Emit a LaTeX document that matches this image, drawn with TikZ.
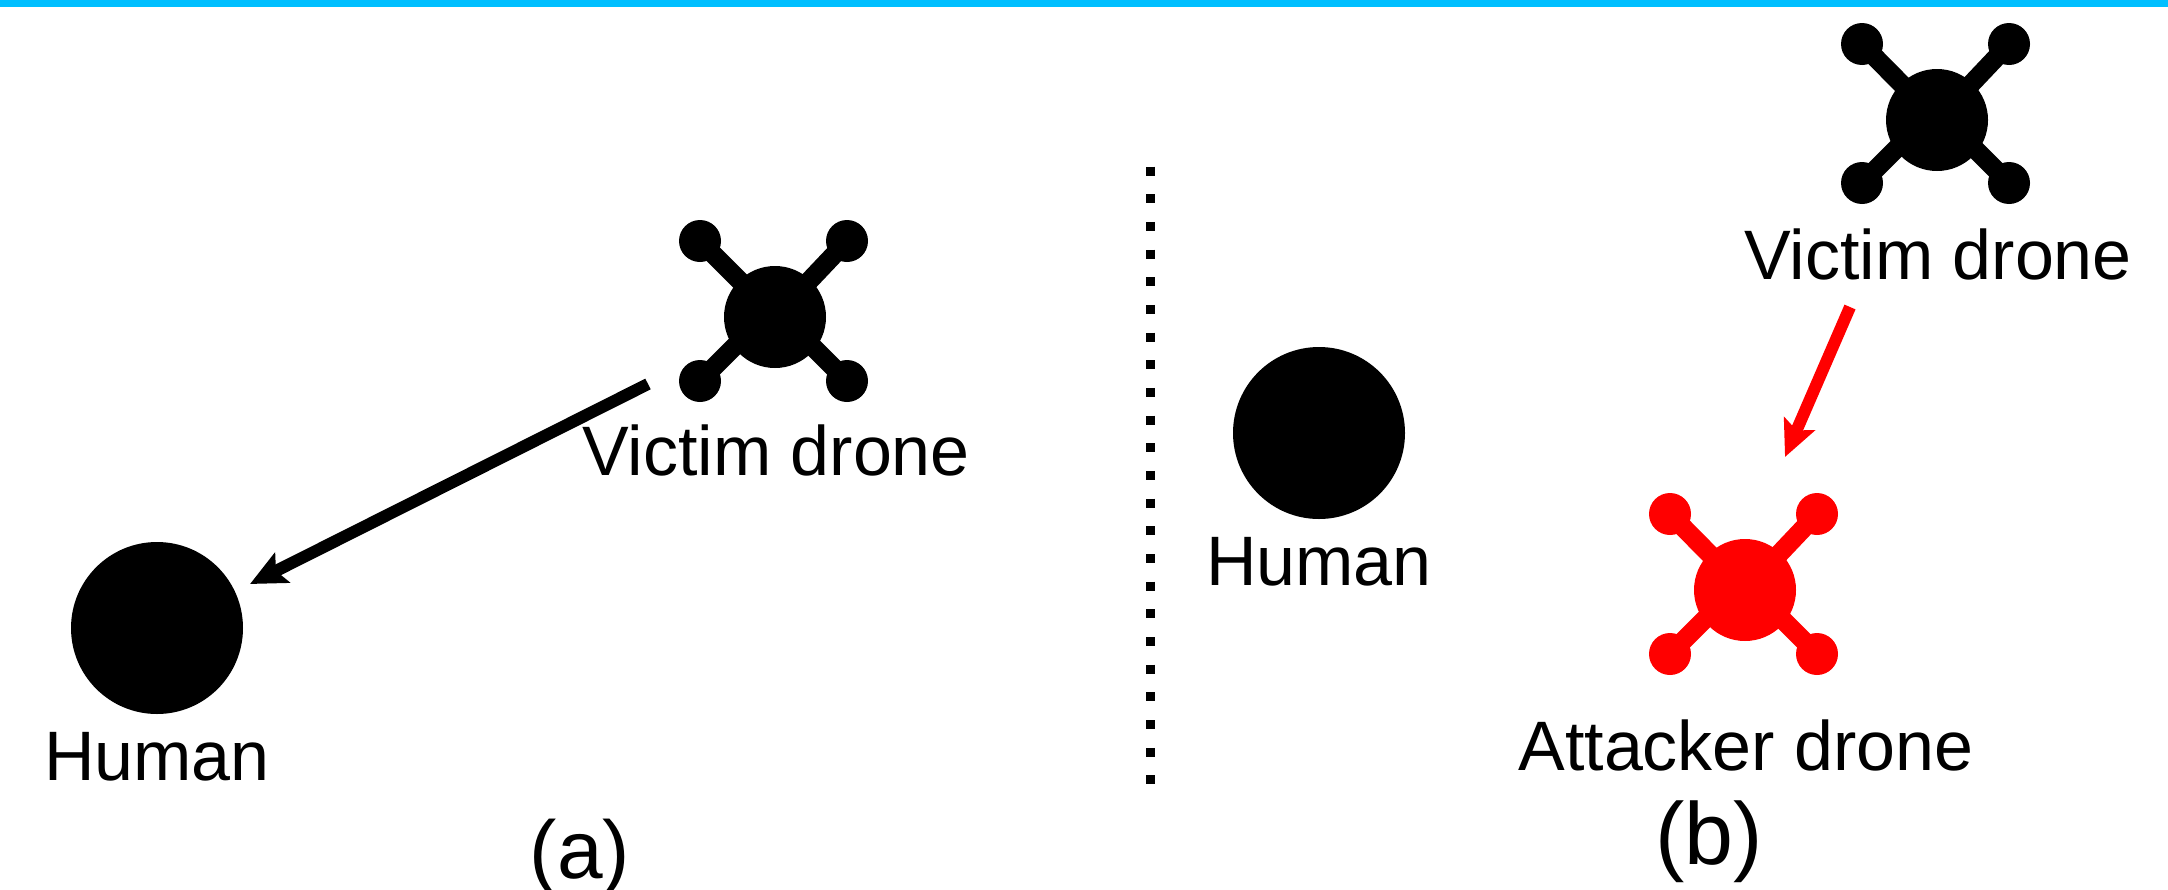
\documentclass[tikz,border=0pt]{standalone}
\usepackage{fontspec}
\setmainfont{Liberation Sans}
\usetikzlibrary{arrows.meta}
\tikzset{
  disc/.style={circle,fill=#1,draw=none,inner sep=0pt,outer sep=0pt},
  bodyd/.style={disc=#1,minimum size=102pt},
  rotor/.style={disc=#1,minimum size=42pt},
  humand/.style={disc=black,minimum size=172pt},
  arm/.style={draw=#1,line width=19pt},
  lab/.style={anchor=base,inner sep=0pt,outer sep=0pt,font=\fontsize{70}{84}\selectfont},
  sublaba/.style={anchor=base,inner sep=0pt,outer sep=0pt,font=\fontsize{82}{98}\selectfont},
  sublabb/.style={anchor=base,inner sep=0pt,outer sep=0pt,font=\fontsize{88}{104}\selectfont},
  motion/.style={draw=#1,line width=12pt,-{Stealth[length=36pt,width=33pt,inset=7pt,fill=#1]}},
}
\begin{document}
\begin{tikzpicture}[x=1pt,y=-1pt]
\useasboundingbox (0,0) rectangle (2168,889);
\fill[white] (0,0) rectangle (2168,889);
\fill[fill={rgb,255:red,0;green,191;blue,255}] (0,0) rectangle (2168,7);

% drone (a)
\node[bodyd=black] (ab) at (775,317) {};
\node[rotor=black] (atl) at (700,241) {};
\node[rotor=black] (atr) at (847,241) {};
\node[rotor=black] (abl) at (700,381) {};
\node[rotor=black] (abr) at (847,381) {};
\coordinate (ajt) at (776,317);
\coordinate (ajb) at (770,311);
\coordinate (ajc) at (777,311);
\draw[arm=black] (atl.center) -- (ajt);
\draw[arm=black] (atr.center) -- (ab.center);
\draw[arm=black] (abl.center) -- (ajb);
\draw[arm=black] (abr.center) -- (ajc);
\node[lab] (avl) at (776,475) {Victim drone};

% human (a)
\node[humand] (ah) at (157,628) {};
\node[lab] (ahl) at (157,780) {Human};

% arrow (a)
\coordinate (astart) at (648,384);
\coordinate (aend) at (250,584);
\draw[motion=black] (astart) -- (aend);

\node[sublaba] (acap) at (580,878) {(a)};

% divider
\coordinate (dtop) at (1150,166.5);
\coordinate (dbot) at (1150,785);
\draw[line width=9pt,dash pattern=on 9pt off 18.68pt] (dtop) -- (dbot);

% human (b)
\node[humand] (bh) at (1319,433) {};
\node[lab] (bhl) at (1319,585) {Human};

% victim drone (b)
\node[bodyd=black] (vb) at (1937,120) {};
\node[rotor=black] (vtl) at (1862,44) {};
\node[rotor=black] (vtr) at (2009,44) {};
\node[rotor=black] (vbl) at (1862,183) {};
\node[rotor=black] (vbr) at (2009,183) {};
\coordinate (vjb) at (1932,113);
\coordinate (vjc) at (1939,113);
\draw[arm=black] (vtl.center) -- (vb.center);
\draw[arm=black] (vtr.center) -- (vb.center);
\draw[arm=black] (vbl.center) -- (vjb);
\draw[arm=black] (vbr.center) -- (vjc);
\node[lab] (vl) at (1938,279) {Victim drone};

% attacker drone (b)
\node[bodyd=red] (rb) at (1745,590) {};
\node[rotor=red] (rtl) at (1670,514) {};
\node[rotor=red] (rtr) at (1817,514) {};
\node[rotor=red] (rbl) at (1670,654) {};
\node[rotor=red] (rbr) at (1817,654) {};
\coordinate (rjb) at (1740,584);
\coordinate (rjc) at (1747,584);
\draw[arm=red] (rtl.center) -- (rb.center);
\draw[arm=red] (rtr.center) -- (rb.center);
\draw[arm=red] (rbl.center) -- (rjb);
\draw[arm=red] (rbr.center) -- (rjc);
\node[lab] (rl) at (1746,770) {Attacker drone};

% arrow (b)
\coordinate (bstart) at (1850,307);
\coordinate (bend) at (1785,457);
\draw[motion=red] (bstart) -- (bend);

\node[sublabb] (bcap) at (1709,864) {(b)};
\end{tikzpicture}
\end{document}
